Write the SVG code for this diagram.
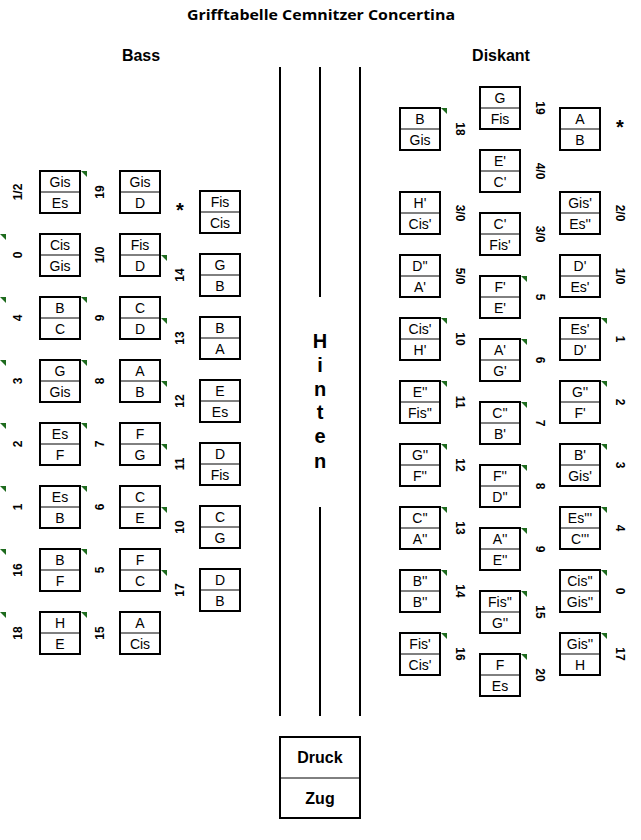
<svg xmlns="http://www.w3.org/2000/svg" width="641" height="840" viewBox="0 0 641 840">
<defs>
<style>
.box{fill:#fff;stroke:#000;stroke-width:2}
.div{stroke:#000;stroke-width:1}
.n{font-family:"Liberation Sans",Arial,sans-serif;font-size:14px;text-anchor:middle;fill:#000}
.lb{font-family:"Liberation Sans",Arial,sans-serif;font-size:12px;font-weight:bold;text-anchor:middle;dominant-baseline:central;fill:#000}
.ast{font-family:"Liberation Sans",Arial,sans-serif;font-size:20px;font-weight:bold;text-anchor:middle;fill:#000}
.hd{font-family:"Liberation Sans",Arial,sans-serif;font-size:16px;font-weight:bold;text-anchor:middle;fill:#000}
.tt{font-family:"Open Sans","Liberation Sans",sans-serif;font-size:15px;font-weight:bold;text-anchor:middle;fill:#000}
.hin{font-family:"Liberation Sans",Arial,sans-serif;font-size:20px;font-weight:bold;text-anchor:middle;fill:#000}
.ln{stroke:#000;stroke-width:2;fill:none}
.tri{fill:#1e6b1e}
</style>
<polygon id="tr" class="tri" points="0,0 6,0 6,6"/>
</defs>

<text class="tt" x="321" y="20" textLength="268" lengthAdjust="spacingAndGlyphs">Grifftabelle Cemnitzer Concertina</text>
<text class="hd" x="141" y="61">Bass</text>
<text class="hd" x="501" y="61">Diskant</text>

<g id="connectors">
<line class="ln" x1="280" y1="67" x2="280" y2="716"/>
<line class="ln" x1="320" y1="67" x2="320" y2="297"/>
<line class="ln" x1="320" y1="507" x2="320" y2="716"/>
<line class="ln" x1="360" y1="67" x2="360" y2="716"/>
</g>

<g id="hinten">
<text class="hin" x="320" y="348">H</text>
<text class="hin" x="320" y="372">i</text>
<text class="hin" x="320" y="396">n</text>
<text class="hin" x="320" y="419">t</text>
<text class="hin" x="320" y="443">e</text>
<text class="hin" x="320" y="468">n</text>
</g>

<g id="legend">
<rect class="box" x="280" y="737" width="80" height="81"/>
<line class="div" x1="280" y1="778" x2="360" y2="778"/>
<text class="hd" x="320" y="763">Druck</text>
<text class="hd" x="320" y="804">Zug</text>
</g>

<!-- Bass column 1 -->
<g id="b1-1" transform="translate(40,171)"><rect class="box" width="40" height="42"/><line class="div" x1="0" y1="21" x2="40" y2="21"/><text class="n" x="20" y="16">Gis</text><text class="n" x="20" y="37">Es</text></g>
<g id="b1-2" transform="translate(40,234)"><rect class="box" width="40" height="42"/><line class="div" x1="0" y1="21" x2="40" y2="21"/><text class="n" x="20" y="16">Cis</text><text class="n" x="20" y="37">Gis</text></g>
<g id="b1-3" transform="translate(40,297)"><rect class="box" width="40" height="42"/><line class="div" x1="0" y1="21" x2="40" y2="21"/><text class="n" x="20" y="16">B</text><text class="n" x="20" y="37">C</text></g>
<g id="b1-4" transform="translate(40,360)"><rect class="box" width="40" height="42"/><line class="div" x1="0" y1="21" x2="40" y2="21"/><text class="n" x="20" y="16">G</text><text class="n" x="20" y="37">Gis</text></g>
<g id="b1-5" transform="translate(40,423)"><rect class="box" width="40" height="42"/><line class="div" x1="0" y1="21" x2="40" y2="21"/><text class="n" x="20" y="16">Es</text><text class="n" x="20" y="37">F</text></g>
<g id="b1-6" transform="translate(40,486)"><rect class="box" width="40" height="42"/><line class="div" x1="0" y1="21" x2="40" y2="21"/><text class="n" x="20" y="16">Es</text><text class="n" x="20" y="37">B</text></g>
<g id="b1-7" transform="translate(40,549)"><rect class="box" width="40" height="42"/><line class="div" x1="0" y1="21" x2="40" y2="21"/><text class="n" x="20" y="16">B</text><text class="n" x="20" y="37">F</text></g>
<g id="b1-8" transform="translate(40,612)"><rect class="box" width="40" height="42"/><line class="div" x1="0" y1="21" x2="40" y2="21"/><text class="n" x="20" y="16">H</text><text class="n" x="20" y="37">E</text></g>

<!-- Bass column 2 -->
<g id="b2-1" transform="translate(120,171)"><rect class="box" width="40" height="42"/><line class="div" x1="0" y1="21" x2="40" y2="21"/><text class="n" x="20" y="16">Gis</text><text class="n" x="20" y="37">D</text></g>
<g id="b2-2" transform="translate(120,234)"><rect class="box" width="40" height="42"/><line class="div" x1="0" y1="21" x2="40" y2="21"/><text class="n" x="20" y="16">Fis</text><text class="n" x="20" y="37">D</text></g>
<g id="b2-3" transform="translate(120,297)"><rect class="box" width="40" height="42"/><line class="div" x1="0" y1="21" x2="40" y2="21"/><text class="n" x="20" y="16">C</text><text class="n" x="20" y="37">D</text></g>
<g id="b2-4" transform="translate(120,360)"><rect class="box" width="40" height="42"/><line class="div" x1="0" y1="21" x2="40" y2="21"/><text class="n" x="20" y="16">A</text><text class="n" x="20" y="37">B</text></g>
<g id="b2-5" transform="translate(120,423)"><rect class="box" width="40" height="42"/><line class="div" x1="0" y1="21" x2="40" y2="21"/><text class="n" x="20" y="16">F</text><text class="n" x="20" y="37">G</text></g>
<g id="b2-6" transform="translate(120,486)"><rect class="box" width="40" height="42"/><line class="div" x1="0" y1="21" x2="40" y2="21"/><text class="n" x="20" y="16">C</text><text class="n" x="20" y="37">E</text></g>
<g id="b2-7" transform="translate(120,549)"><rect class="box" width="40" height="42"/><line class="div" x1="0" y1="21" x2="40" y2="21"/><text class="n" x="20" y="16">F</text><text class="n" x="20" y="37">C</text></g>
<g id="b2-8" transform="translate(120,612)"><rect class="box" width="40" height="42"/><line class="div" x1="0" y1="21" x2="40" y2="21"/><text class="n" x="20" y="16">A</text><text class="n" x="20" y="37">Cis</text></g>

<!-- Bass column 3 -->
<g id="b3-1" transform="translate(200,191)"><rect class="box" width="40" height="42"/><line class="div" x1="0" y1="21" x2="40" y2="21"/><text class="n" x="20" y="16">Fis</text><text class="n" x="20" y="37">Cis</text></g>
<g id="b3-2" transform="translate(200,254)"><rect class="box" width="40" height="42"/><line class="div" x1="0" y1="21" x2="40" y2="21"/><text class="n" x="20" y="16">G</text><text class="n" x="20" y="37">B</text></g>
<g id="b3-3" transform="translate(200,317)"><rect class="box" width="40" height="42"/><line class="div" x1="0" y1="21" x2="40" y2="21"/><text class="n" x="20" y="16">B</text><text class="n" x="20" y="37">A</text></g>
<g id="b3-4" transform="translate(200,380)"><rect class="box" width="40" height="42"/><line class="div" x1="0" y1="21" x2="40" y2="21"/><text class="n" x="20" y="16">E</text><text class="n" x="20" y="37">Es</text></g>
<g id="b3-5" transform="translate(200,443)"><rect class="box" width="40" height="42"/><line class="div" x1="0" y1="21" x2="40" y2="21"/><text class="n" x="20" y="16">D</text><text class="n" x="20" y="37">Fis</text></g>
<g id="b3-6" transform="translate(200,506)"><rect class="box" width="40" height="42"/><line class="div" x1="0" y1="21" x2="40" y2="21"/><text class="n" x="20" y="16">C</text><text class="n" x="20" y="37">G</text></g>
<g id="b3-7" transform="translate(200,569)"><rect class="box" width="40" height="42"/><line class="div" x1="0" y1="21" x2="40" y2="21"/><text class="n" x="20" y="16">D</text><text class="n" x="20" y="37">B</text></g>

<!-- Diskant column 1 -->
<g id="d1-1" transform="translate(400,108)"><rect class="box" width="40" height="42"/><line class="div" x1="0" y1="21" x2="40" y2="21"/><text class="n" x="20" y="16">B</text><text class="n" x="20" y="37">Gis</text></g>
<g id="d1-2" transform="translate(400,192)"><rect class="box" width="40" height="42"/><line class="div" x1="0" y1="21" x2="40" y2="21"/><text class="n" x="20" y="16">H'</text><text class="n" x="20" y="37">Cis'</text></g>
<g id="d1-3" transform="translate(400,255)"><rect class="box" width="40" height="42"/><line class="div" x1="0" y1="21" x2="40" y2="21"/><text class="n" x="20" y="16">D''</text><text class="n" x="20" y="37">A'</text></g>
<g id="d1-4" transform="translate(400,318)"><rect class="box" width="40" height="42"/><line class="div" x1="0" y1="21" x2="40" y2="21"/><text class="n" x="20" y="16">Cis'</text><text class="n" x="20" y="37">H'</text></g>
<g id="d1-5" transform="translate(400,381)"><rect class="box" width="40" height="42"/><line class="div" x1="0" y1="21" x2="40" y2="21"/><text class="n" x="20" y="16">E''</text><text class="n" x="20" y="37">Fis''</text></g>
<g id="d1-6" transform="translate(400,444)"><rect class="box" width="40" height="42"/><line class="div" x1="0" y1="21" x2="40" y2="21"/><text class="n" x="20" y="16">G''</text><text class="n" x="20" y="37">F''</text></g>
<g id="d1-7" transform="translate(400,507)"><rect class="box" width="40" height="42"/><line class="div" x1="0" y1="21" x2="40" y2="21"/><text class="n" x="20" y="16">C''</text><text class="n" x="20" y="37">A''</text></g>
<g id="d1-8" transform="translate(400,570)"><rect class="box" width="40" height="42"/><line class="div" x1="0" y1="21" x2="40" y2="21"/><text class="n" x="20" y="16">B''</text><text class="n" x="20" y="37">B''</text></g>
<g id="d1-9" transform="translate(400,633)"><rect class="box" width="40" height="42"/><line class="div" x1="0" y1="21" x2="40" y2="21"/><text class="n" x="20" y="16">Fis'</text><text class="n" x="20" y="37">Cis'</text></g>

<!-- Diskant column 2 -->
<g id="d2-1" transform="translate(480,87)"><rect class="box" width="40" height="42"/><line class="div" x1="0" y1="21" x2="40" y2="21"/><text class="n" x="20" y="16">G</text><text class="n" x="20" y="37">Fis</text></g>
<g id="d2-2" transform="translate(480,150)"><rect class="box" width="40" height="42"/><line class="div" x1="0" y1="21" x2="40" y2="21"/><text class="n" x="20" y="16">E'</text><text class="n" x="20" y="37">C'</text></g>
<g id="d2-3" transform="translate(480,213)"><rect class="box" width="40" height="42"/><line class="div" x1="0" y1="21" x2="40" y2="21"/><text class="n" x="20" y="16">C'</text><text class="n" x="20" y="37">Fis'</text></g>
<g id="d2-4" transform="translate(480,276)"><rect class="box" width="40" height="42"/><line class="div" x1="0" y1="21" x2="40" y2="21"/><text class="n" x="20" y="16">F'</text><text class="n" x="20" y="37">E'</text></g>
<g id="d2-5" transform="translate(480,339)"><rect class="box" width="40" height="42"/><line class="div" x1="0" y1="21" x2="40" y2="21"/><text class="n" x="20" y="16">A'</text><text class="n" x="20" y="37">G'</text></g>
<g id="d2-6" transform="translate(480,402)"><rect class="box" width="40" height="42"/><line class="div" x1="0" y1="21" x2="40" y2="21"/><text class="n" x="20" y="16">C''</text><text class="n" x="20" y="37">B'</text></g>
<g id="d2-7" transform="translate(480,465)"><rect class="box" width="40" height="42"/><line class="div" x1="0" y1="21" x2="40" y2="21"/><text class="n" x="20" y="16">F''</text><text class="n" x="20" y="37">D''</text></g>
<g id="d2-8" transform="translate(480,528)"><rect class="box" width="40" height="42"/><line class="div" x1="0" y1="21" x2="40" y2="21"/><text class="n" x="20" y="16">A''</text><text class="n" x="20" y="37">E''</text></g>
<g id="d2-9" transform="translate(480,591)"><rect class="box" width="40" height="42"/><line class="div" x1="0" y1="21" x2="40" y2="21"/><text class="n" x="20" y="16">Fis''</text><text class="n" x="20" y="37">G''</text></g>
<g id="d2-10" transform="translate(480,654)"><rect class="box" width="40" height="42"/><line class="div" x1="0" y1="21" x2="40" y2="21"/><text class="n" x="20" y="16">F</text><text class="n" x="20" y="37">Es</text></g>

<!-- Diskant column 3 -->
<g id="d3-1" transform="translate(560,108)"><rect class="box" width="40" height="42"/><line class="div" x1="0" y1="21" x2="40" y2="21"/><text class="n" x="20" y="16">A</text><text class="n" x="20" y="37">B</text></g>
<g id="d3-2" transform="translate(560,192)"><rect class="box" width="40" height="42"/><line class="div" x1="0" y1="21" x2="40" y2="21"/><text class="n" x="20" y="16">Gis'</text><text class="n" x="20" y="37">Es''</text></g>
<g id="d3-3" transform="translate(560,255)"><rect class="box" width="40" height="42"/><line class="div" x1="0" y1="21" x2="40" y2="21"/><text class="n" x="20" y="16">D'</text><text class="n" x="20" y="37">Es'</text></g>
<g id="d3-4" transform="translate(560,318)"><rect class="box" width="40" height="42"/><line class="div" x1="0" y1="21" x2="40" y2="21"/><text class="n" x="20" y="16">Es'</text><text class="n" x="20" y="37">D'</text></g>
<g id="d3-5" transform="translate(560,381)"><rect class="box" width="40" height="42"/><line class="div" x1="0" y1="21" x2="40" y2="21"/><text class="n" x="20" y="16">G''</text><text class="n" x="20" y="37">F'</text></g>
<g id="d3-6" transform="translate(560,444)"><rect class="box" width="40" height="42"/><line class="div" x1="0" y1="21" x2="40" y2="21"/><text class="n" x="20" y="16">B'</text><text class="n" x="20" y="37">Gis'</text></g>
<g id="d3-7" transform="translate(560,507)"><rect class="box" width="40" height="42"/><line class="div" x1="0" y1="21" x2="40" y2="21"/><text class="n" x="20" y="16">Es'''</text><text class="n" x="20" y="37">C'''</text></g>
<g id="d3-8" transform="translate(560,570)"><rect class="box" width="40" height="42"/><line class="div" x1="0" y1="21" x2="40" y2="21"/><text class="n" x="20" y="16">Cis''</text><text class="n" x="20" y="37">Gis''</text></g>
<g id="d3-9" transform="translate(560,633)"><rect class="box" width="40" height="42"/><line class="div" x1="0" y1="21" x2="40" y2="21"/><text class="n" x="20" y="16">Gis''</text><text class="n" x="20" y="37">H</text></g>

<!-- Labels -->
<g id="labels-bass">
<text class="lb" transform="translate(18,192) rotate(-90)">1/2</text>
<text class="lb" transform="translate(18,255) rotate(-90)">0</text>
<text class="lb" transform="translate(18,318) rotate(-90)">4</text>
<text class="lb" transform="translate(18,381) rotate(-90)">3</text>
<text class="lb" transform="translate(18,444) rotate(-90)">2</text>
<text class="lb" transform="translate(18,507) rotate(-90)">1</text>
<text class="lb" transform="translate(18,570) rotate(-90)">16</text>
<text class="lb" transform="translate(18,633) rotate(-90)">18</text>
<text class="lb" transform="translate(100,192) rotate(-90)">19</text>
<text class="lb" transform="translate(100,255) rotate(-90)">1/0</text>
<text class="lb" transform="translate(100,318) rotate(-90)">9</text>
<text class="lb" transform="translate(100,381) rotate(-90)">8</text>
<text class="lb" transform="translate(100,444) rotate(-90)">7</text>
<text class="lb" transform="translate(100,507) rotate(-90)">6</text>
<text class="lb" transform="translate(100,570) rotate(-90)">5</text>
<text class="lb" transform="translate(100,633) rotate(-90)">15</text>
<text class="ast" x="180" y="217">*</text>
<text class="lb" transform="translate(180,275) rotate(-90)">14</text>
<text class="lb" transform="translate(180,338) rotate(-90)">13</text>
<text class="lb" transform="translate(180,401) rotate(-90)">12</text>
<text class="lb" transform="translate(180,464) rotate(-90)">11</text>
<text class="lb" transform="translate(180,527) rotate(-90)">10</text>
<text class="lb" transform="translate(180,590) rotate(-90)">17</text>
</g>
<g id="labels-diskant">
<text class="lb" transform="translate(460,129) rotate(90)">18</text>
<text class="lb" transform="translate(460,213) rotate(90)">3/0</text>
<text class="lb" transform="translate(460,276) rotate(90)">5/0</text>
<text class="lb" transform="translate(460,339) rotate(90)">10</text>
<text class="lb" transform="translate(460,402) rotate(90)">11</text>
<text class="lb" transform="translate(460,465) rotate(90)">12</text>
<text class="lb" transform="translate(460,528) rotate(90)">13</text>
<text class="lb" transform="translate(460,591) rotate(90)">14</text>
<text class="lb" transform="translate(460,654) rotate(90)">16</text>
<text class="lb" transform="translate(540,108) rotate(90)">19</text>
<text class="lb" transform="translate(540,171) rotate(90)">4/0</text>
<text class="lb" transform="translate(540,234) rotate(90)">3/0</text>
<text class="lb" transform="translate(540,297) rotate(90)">5</text>
<text class="lb" transform="translate(540,360) rotate(90)">6</text>
<text class="lb" transform="translate(540,423) rotate(90)">7</text>
<text class="lb" transform="translate(540,486) rotate(90)">8</text>
<text class="lb" transform="translate(540,549) rotate(90)">9</text>
<text class="lb" transform="translate(540,612) rotate(90)">15</text>
<text class="lb" transform="translate(540,675) rotate(90)">20</text>
<text class="ast" x="620" y="134">*</text>
<text class="lb" transform="translate(620,213) rotate(90)">2/0</text>
<text class="lb" transform="translate(620,276) rotate(90)">1/0</text>
<text class="lb" transform="translate(620,339) rotate(90)">1</text>
<text class="lb" transform="translate(620,402) rotate(90)">2</text>
<text class="lb" transform="translate(620,465) rotate(90)">3</text>
<text class="lb" transform="translate(620,528) rotate(90)">4</text>
<text class="lb" transform="translate(620,591) rotate(90)">0</text>
<text class="lb" transform="translate(620,654) rotate(90)">17</text>
</g>

<!-- Comment markers -->
<g id="markers">
<use href="#tr" x="81" y="171"/>
<use href="#tr" x="81" y="297"/>
<use href="#tr" x="81" y="360"/>
<use href="#tr" x="81" y="423"/>
<use href="#tr" x="81" y="486"/>
<use href="#tr" x="81" y="549"/>
<use href="#tr" x="81" y="612"/>
<use href="#tr" x="0" y="234"/>
<use href="#tr" x="0" y="297"/>
<use href="#tr" x="0" y="360"/>
<use href="#tr" x="0" y="423"/>
<use href="#tr" x="0" y="486"/>
<use href="#tr" x="0" y="549"/>
<use href="#tr" x="0" y="612"/>
<use href="#tr" x="161" y="255"/>
<use href="#tr" x="161" y="318"/>
<use href="#tr" x="161" y="381"/>
<use href="#tr" x="161" y="444"/>
<use href="#tr" x="161" y="507"/>
<use href="#tr" x="161" y="570"/>
<use href="#tr" x="441" y="108"/>
<use href="#tr" x="441" y="318"/>
<use href="#tr" x="441" y="381"/>
<use href="#tr" x="441" y="444"/>
<use href="#tr" x="441" y="507"/>
<use href="#tr" x="441" y="570"/>
<use href="#tr" x="441" y="633"/>
<use href="#tr" x="521" y="276"/>
<use href="#tr" x="521" y="339"/>
<use href="#tr" x="521" y="402"/>
<use href="#tr" x="521" y="465"/>
<use href="#tr" x="521" y="528"/>
<use href="#tr" x="521" y="591"/>
<use href="#tr" x="521" y="654"/>
<use href="#tr" x="601" y="318"/>
<use href="#tr" x="601" y="381"/>
<use href="#tr" x="601" y="444"/>
<use href="#tr" x="601" y="507"/>
<use href="#tr" x="601" y="570"/>
<use href="#tr" x="601" y="633"/>
</g>
</svg>
